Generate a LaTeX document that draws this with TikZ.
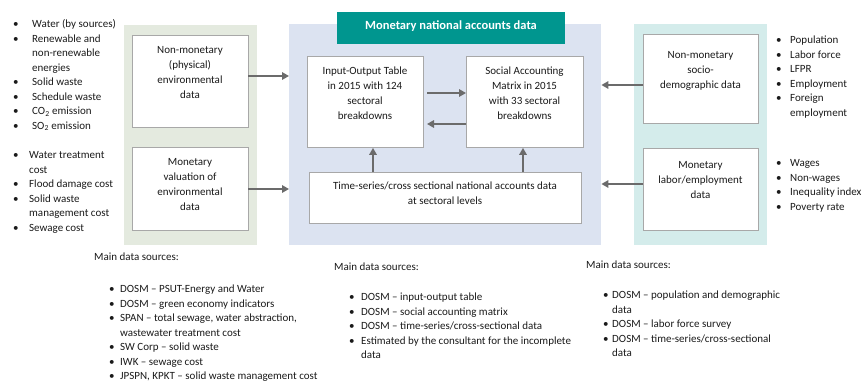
\documentclass[tikz,border=0pt]{standalone}
\usepackage{fontspec}
\setmainfont{Carlito}
\usetikzlibrary{arrows.meta}
\definecolor{greenpanel}{HTML}{E4EADF}
\definecolor{bluepanel}{HTML}{DCE3F1}
\definecolor{tealpanel}{HTML}{D4ECEB}
\definecolor{headteal}{HTML}{00968F}
\definecolor{boxborder}{HTML}{A8A8A8}
\definecolor{arrowgray}{HTML}{6B6B6B}
\definecolor{txt}{HTML}{1A1A1A}
\tikzset{
  panel/.style={draw=none, inner sep=0pt, anchor=north west},
  databox/.style={draw=boxborder, line width=0.9pt, fill=white, inner sep=0pt, anchor=north west},
  boxtext/.style={align=center, inner sep=0pt, text=txt, font=\fontsize{11}{15}\selectfont},
  listtext/.style={inner sep=0pt, anchor=base west, text=txt, font=\fontsize{11}{14.5}\selectfont},
  arr/.style={draw=arrowgray, line width=1.6pt, -{Triangle[length=7pt,width=7.5pt]}}
}
\newcommand{\bl}{\textbullet}
\begin{document}
\begin{tikzpicture}[x=1pt,y=-1pt]
\useasboundingbox (0,0) rectangle (865,383);
% panels
\node[panel, fill=greenpanel, minimum width=133pt, minimum height=220pt] (gp) at (124,25) {};
\node[panel, fill=bluepanel, minimum width=312pt, minimum height=221pt] (bp) at (289,24) {};
\node[panel, fill=tealpanel, minimum width=133pt, minimum height=221pt] (tp) at (634,24) {};
\node[panel, fill=headteal, minimum width=228pt, minimum height=32pt] (hd) at (337,12) {};
\node[inner sep=0pt, text=white, font=\fontsize{12.5}{14}\bfseries] (hdt) at (451,26) {Monetary national accounts data};
% left boxes
\node[databox, minimum width=116pt, minimum height=92pt] (nm) at (132,35) {};
\node[boxtext] (nmt) at (190,73) {Non-monetary\\(physical)\\environmental\\data};
\node[databox, minimum width=116pt, minimum height=83pt] (mv) at (132,147) {};
\node[boxtext] (mvt) at (190,185) {Monetary\\valuation of\\environmental\\data};
% center boxes
\node[databox, minimum width=116pt, minimum height=91pt] (io) at (307,56) {};
\node[boxtext] (iot) at (365,93) {Input-Output Table\\in 2015 with 124\\sectoral\\breakdowns};
\node[databox, minimum width=117pt, minimum height=91pt] (sam) at (466,56) {};
\node[boxtext] (samt) at (524.5,93) {Social Accounting\\Matrix in 2015\\with 33 sectoral\\breakdowns};
\node[databox, minimum width=272pt, minimum height=51pt] (ts) at (309,172) {};
\node[boxtext] (tst) at (445,193) {Time-series/cross sectional national accounts data\\at sectoral levels};
% right boxes
\node[databox, minimum width=115pt, minimum height=89pt] (sd) at (643,34) {};
\node[boxtext] (sdt) at (700.5,71) {Non-monetary\\socio-\\demographic data};
\node[databox, minimum width=115pt, minimum height=82pt] (lb) at (643,148) {};
\node[boxtext] (lbt) at (700.5,180) {Monetary\\labor/employment\\data};
% arrows
\coordinate (a1) at (248,76);
\coordinate (a2) at (248,189);
\draw[arr] (a1) -- (a1 -| bp.west);
\draw[arr] (a2) -- (a2 -| bp.west);
\coordinate (a3) at (643,85);
\coordinate (a4) at (643,184);
\draw[arr] (a3) -- (a3 -| bp.east);
\draw[arr] (a4) -- (a4 -| bp.east);
\coordinate (h1) at (427,93);
\coordinate (h2) at (427,124);
\draw[arr] (h1) -- (h1 -| sam.west);
\draw[arr] (h2 -| sam.west) -- (h2);
\coordinate (v1) at (373,0);
\coordinate (v2) at (523,0);
\draw[arr] (v1 |- ts.north) -- (v1 |- io.south);
\draw[arr] (v2 |- ts.north) -- (v2 |- sam.south);
% bullet lists
\node[listtext] (l1) at (13,27.5) {\begin{tabular}[t]{@{}p{19pt}@{}l@{}}
\bl & Water (by sources)\\
\bl & Renewable and\\
 & non-renewable\\
 & energies\\
\bl & Solid waste\\
\bl & Schedule waste\\
\bl & CO\textsubscript{2} emission\\
\bl & SO\textsubscript{2} emission
\end{tabular}};
\node[listtext] (l2) at (13,158.5) {\begin{tabular}[t]{@{}p{16pt}@{}l@{}}
\bl & Water treatment\\
 & cost\\
\bl & Flood damage cost\\
\bl & Solid waste\\
 & management cost\\
\bl & Sewage cost
\end{tabular}};
\node[listtext] (r1) at (776,43.5) {\begin{tabular}[t]{@{}p{14pt}@{}l@{}}
\bl & Population\\
\bl & Labor force\\
\bl & LFPR\\
\bl & Employment\\
\bl & Foreign\\
 & employment
\end{tabular}};
\node[listtext] (r2) at (776,166.5) {\begin{tabular}[t]{@{}p{14pt}@{}l@{}}
\bl & Wages\\
\bl & Non-wages\\
\bl & Inequality index\\
\bl & Poverty rate
\end{tabular}};
% main data sources
\node[listtext] (s1h) at (94,260.5) {Main data sources:};
\node[listtext] (s1) at (109,292.5) {\begin{tabular}[t]{@{}p{11pt}@{}l@{}}
\bl & DOSM – PSUT-Energy and Water\\
\bl & DOSM – green economy indicators\\
\bl & SPAN – total sewage, water abstraction,\\
 & wastewater treatment cost\\
\bl & SW Corp – solid waste\\
\bl & IWK – sewage cost\\
\bl & JPSPN, KPKT – solid waste management cost
\end{tabular}};
\node[listtext] (s2h) at (334,270.5) {Main data sources:};
\node[listtext] (s2) at (349,300.5) {\begin{tabular}[t]{@{}p{12pt}@{}l@{}}
\bl & DOSM – input-output table\\
\bl & DOSM – social accounting matrix\\
\bl & DOSM – time-series/cross-sectional data\\
\bl & Estimated by the consultant for the incomplete\\
 & data
\end{tabular}};
\node[listtext] (s3h) at (586,268.5) {Main data sources:};
\node[listtext] (s3) at (603,298.5) {\begin{tabular}[t]{@{}p{9pt}@{}l@{}}
\bl & DOSM – population and demographic\\
 & data\\
\bl & DOSM – labor force survey\\
\bl & DOSM – time-series/cross-sectional\\
 & data
\end{tabular}};
\end{tikzpicture}
\end{document}
